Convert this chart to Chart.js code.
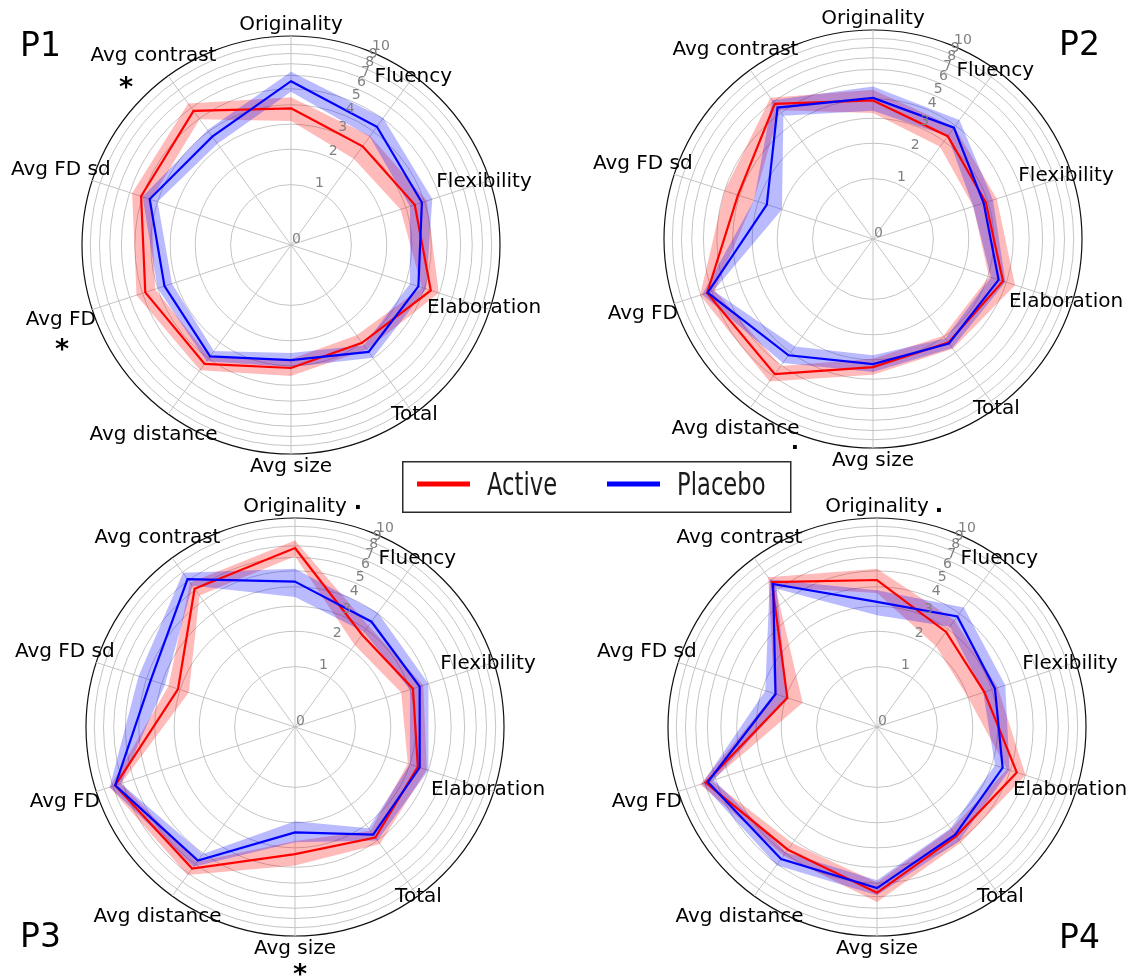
<!DOCTYPE html>
<html>
<head>
<meta charset="utf-8">
<script src="https://cdn.jsdelivr.net/npm/chart.js@4.4.1/dist/chart.umd.min.js"></script>
<style>
  html, body { margin: 0; padding: 0; background: #fff; overflow: hidden; }
  #wrap { position: relative; width: 1130px; height: 977px; }
  #wrap canvas { position: absolute; left: 0; top: 0; }
</style>
</head>
<body>
<div id="wrap">
  <canvas id="c1" width="1130" height="977"></canvas>
  <canvas id="c2" width="1130" height="977"></canvas>
  <canvas id="c3" width="1130" height="977"></canvas>
  <canvas id="c4" width="1130" height="977"></canvas>
  <canvas id="legend" width="400" height="62" style="left:398px;top:456px;"></canvas>
</div>
<script>
// ---- data -------------------------------------------------------------
const axes = ['Originality', 'Fluency', 'Flexibility', 'Elaboration', 'Total',
              'Avg size', 'Avg distance', 'Avg FD', 'Avg FD sd', 'Avg contrast'];
const rTicks = [0, 1, 2, 3, 4, 5, 6, 7, 8, 9, 10];

const p1Active    = [3.8, 3.05, 3.45, 4.4, 3.0, 3.1, 4.4, 4.8, 5.1, 5.7];
const p1ActiveSd  = [0.65, 0.65, 0.7, 0.55, 0.4, 0.4, 0.5, 0.65, 0.7, 0.75];
const p1Placebo   = [5.55, 4.35, 3.85, 3.65, 3.55, 2.75, 3.85, 3.6, 4.5, 3.65];
const p1PlaceboSd = [0.75, 0.7, 0.65, 0.45, 0.4, 0.3, 0.35, 0.4, 0.5, 0.45];

const p2Active    = [3.9, 3.3, 2.9, 3.8, 3.35, 3.35, 5.8, 6.4, 4.1, 5.8];
const p2ActiveSd  = [0.65, 0.6, 0.55, 0.75, 0.4, 0.4, 0.75, 0.65, 0.9, 0.6];
const p2Placebo   = [4.05, 3.85, 2.8, 3.55, 3.4, 3.2, 4.2, 6.35, 2.6, 5.45];
const p2PlaceboSd = [0.7, 0.55, 0.45, 0.4, 0.3, 0.4, 0.6, 0.5, 0.6, 0.7];

const p3Active    = [6.8, 2.7, 3.15, 3.4, 3.8, 3.3, 6.45, 7.75, 3.1, 6.1];
const p3ActiveSd  = [0.7, 0.5, 0.55, 0.5, 0.45, 0.6, 0.7, 0.6, 0.5, 0.65];
const p3Placebo   = [4.3, 3.45, 3.5, 3.5, 3.6, 2.35, 5.65, 7.75, 4.7, 7.15];
const p3PlaceboSd = [0.85, 0.6, 0.5, 0.5, 0.4, 0.4, 0.6, 0.6, 0.9, 0.75];

const p4Active    = [4.4, 2.85, 2.65, 4.4, 3.7, 5.7, 4.7, 6.9, 1.95, 6.8];
const p4ActiveSd  = [0.75, 0.7, 0.65, 0.6, 0.45, 0.75, 0.5, 0.55, 0.5, 0.55];
const p4Placebo   = [3.2, 3.8, 3.15, 3.55, 3.6, 5.35, 5.5, 6.7, 2.4, 6.6];
const p4PlaceboSd = [0.6, 0.65, 0.55, 0.4, 0.4, 0.55, 0.6, 0.55, 0.45, 0.5];

// ---- layout -----------------------------------------------------------
const W = 1130, H = 977, RADIUS = 209;
// distance of each axis label from the centre, in pixels
const labelDist = [220, 208, 203, 203, 210, 222, 234, 242, 242, 234];

const RED = '#ff0000', BLUE = '#0000ff';
const RED_BAND = 'rgba(255,0,0,0.27)', BLUE_BAND = 'rgba(0,0,255,0.27)';

// radial values are drawn on a log(1 + x) scale
const toR = v => Math.log1p(v);
const R_MAX = toR(rTicks[rTicks.length - 1]);

function bandDatasets(mean, sd, fillColor, order) {
  const lo = mean.map((m, i) => toR(Math.max(0, m - sd[i])));
  const hi = mean.map((m, i) => toR(m + sd[i]));
  const hidden = { borderWidth: 0, borderColor: 'rgba(0,0,0,0)', pointRadius: 0, order: order + 1 };
  return [
    Object.assign({ data: lo, fill: false }, hidden),
    Object.assign({ data: hi, fill: '-1', backgroundColor: fillColor }, hidden, { order })
  ];
}

function lineDataset(mean, color, order) {
  return { data: mean.map(toR), borderColor: color, borderWidth: 2.2, pointRadius: 0,
           fill: false, order, borderJoinStyle: 'miter' };
}

const decor = {
  id: 'decor',
  afterDatasetsDraw(chart, args, o) {
    const s = chart.scales.r, ctx = chart.ctx;
    ctx.save();
    // radial tick labels, along the 22.5 degree ray
    const a = 22.5 * Math.PI / 180;
    ctx.font = '14px "DejaVu Sans"';
    ctx.fillStyle = '#808080';
    ctx.textAlign = 'left';
    ctx.textBaseline = 'alphabetic';
    rTicks.forEach(k => {
      const d = s.getDistanceFromCenterForValue(toR(k));
      ctx.fillText(String(k), s.xCenter + d * Math.sin(a) + 1, s.yCenter - d * Math.cos(a) - 2);
    });
    // axis names
    ctx.font = '20px "DejaVu Sans"';
    ctx.fillStyle = '#000';
    ctx.textAlign = 'center';
    ctx.textBaseline = 'middle';
    axes.forEach((name, i) => {
      const p = s.getPointPosition(i, labelDist[i]);
      ctx.fillText(name, p.x, p.y);
    });
    // panel title
    ctx.font = '33px "DejaVu Sans"';
    ctx.textAlign = 'left';
    ctx.textBaseline = 'alphabetic';
    ctx.fillText(o.title, o.titleX, o.titleY);
    // significance marks
    o.marks.forEach(m => {
      ctx.textAlign = 'center';
      if (m.t === '*') {
        ctx.font = 'bold 27px "DejaVu Sans"';
        ctx.fillText('*', m.x, m.y + 15);
      } else {
        ctx.font = 'bold 22px "DejaVu Sans"';
        ctx.fillText('.', m.x, m.y + 2);
      }
    });
    ctx.restore();
  }
};

function radar(id, cx, cy, active, activeSd, placebo, placeboSd, deco) {
  const datasets = [
    ...bandDatasets(active, activeSd, RED_BAND, 4),
    ...bandDatasets(placebo, placeboSd, BLUE_BAND, 3),
    lineDataset(active, RED, 2),
    lineDataset(placebo, BLUE, 1)
  ];
  return new Chart(document.getElementById(id), {
    type: 'radar',
    data: { labels: axes, datasets },
    options: {
      responsive: false,
      animation: false,
      devicePixelRatio: 1,
      layout: { padding: { left: cx - RADIUS, right: W - cx - RADIUS, top: cy - RADIUS, bottom: H - cy - RADIUS } },
      elements: { line: { tension: 0 } },
      plugins: { legend: { display: false }, tooltip: { enabled: false }, decor: deco },
      scales: {
        r: {
          min: 0,
          max: R_MAX,
          startAngle: 0,
          afterBuildTicks: sc => { sc.ticks = rTicks.map(k => ({ value: toR(k) })); },
          ticks: { display: false },
          pointLabels: { display: false },
          grid: {
            circular: true,
            color: c => (c.tick && c.tick.value >= R_MAX - 1e-9) ? '#111' : '#c4c4c4',
            lineWidth: c => (c.tick && c.tick.value >= R_MAX - 1e-9) ? 1.2 : 1
          },
          angleLines: { color: '#c4c4c4', lineWidth: 1 }
        }
      }
    },
    plugins: [decor]
  });
}

radar('c1', 291, 245, p1Active, p1ActiveSd, p1Placebo, p1PlaceboSd,
  { title: 'P1', titleX: 20, titleY: 56, marks: [{ t: '*', x: 126, y: 81 }, { t: '*', x: 62, y: 343 }] });
radar('c2', 873, 239, p2Active, p2ActiveSd, p2Placebo, p2PlaceboSd,
  { title: 'P2', titleX: 1059, titleY: 55, marks: [{ t: '.', x: 795, y: 447 }] });
radar('c3', 295, 727, p3Active, p3ActiveSd, p3Placebo, p3PlaceboSd,
  { title: 'P3', titleX: 20, titleY: 947, marks: [{ t: '.', x: 358, y: 507 }, { t: '*', x: 300, y: 968 }] });
radar('c4', 877, 727, p4Active, p4ActiveSd, p4Placebo, p4PlaceboSd,
  { title: 'P4', titleX: 1059, titleY: 948, marks: [{ t: '.', x: 939, y: 510 }] });

// ---- shared legend ----------------------------------------------------
(function drawLegend() {
  const ctx = document.getElementById('legend').getContext('2d');
  ctx.fillStyle = '#fff';
  ctx.fillRect(4.75, 5.75, 388, 50.5);
  ctx.strokeStyle = '#2b2b2b';
  ctx.lineWidth = 1.5;
  ctx.strokeRect(4.75, 5.75, 388, 50.5);
  const entries = [['Active', RED, 19, 89], ['Placebo', BLUE, 209, 279]];
  ctx.font = '31.5px "DejaVu Sans"';
  ctx.textBaseline = 'alphabetic';
  entries.forEach(([name, color, lx, tx]) => {
    ctx.fillStyle = color;
    ctx.fillRect(lx, 25.5, 53, 5);
    ctx.save();
    ctx.translate(tx, 39);
    ctx.scale(0.72, 1);
    ctx.fillStyle = '#1a1a1a';
    ctx.fillText(name, 0, 0);
    ctx.restore();
  });
})();
</script>
</body>
</html>
